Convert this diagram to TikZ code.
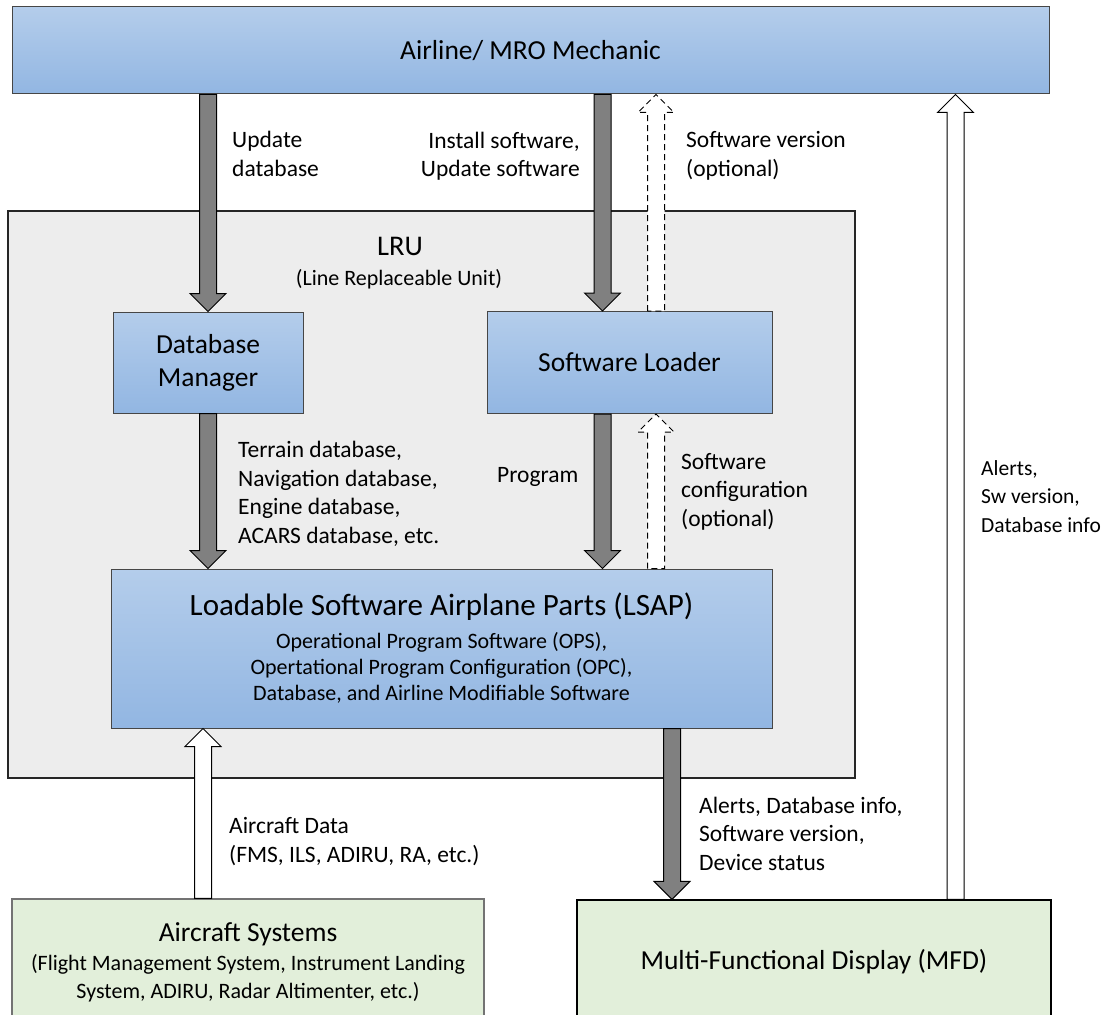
\documentclass[tikz,border=0pt]{standalone}
\usepackage{fontspec}
\setmainfont{Carlito}
\usetikzlibrary{calc}

\definecolor{boxblueTop}{RGB}{180,205,235}
\definecolor{boxblueBot}{RGB}{146,182,226}
\definecolor{lrugray}{RGB}{237,237,237}
\definecolor{sysgreen}{RGB}{226,239,218}
\definecolor{arrowgray}{RGB}{128,128,128}
\definecolor{edgegray}{RGB}{70,70,70}

\tikzset{
  bluebox/.style={draw=edgegray, line width=1pt, top color=boxblueTop, bottom color=boxblueBot,
                  inner sep=0pt, align=center, font=\fontsize{27.5}{33}\selectfont},
  lrubox/.style={draw=black!85, line width=1.3pt, fill=lrugray, inner sep=0pt},
  greenbox/.style={fill=sysgreen, line width=1.2pt, inner sep=0pt, align=center},
  lbl/.style={inner sep=0pt, font=\fontsize{23.5}{28.5}\selectfont},
  solidarrow/.style={draw=black, line width=1pt, fill=arrowgray},
  hollowarrow/.style={draw=black, line width=1pt, fill=white},
  dasharrow/.style={draw=black, line width=1pt, fill=white, dash pattern=on 6pt off 4pt},
}

% vertical block arrow from #2 to #3 (tip at #3)
\newcommand\blockarrow[3][]{%
  \path[#1] let \p1=#2, \p2=#3, \n1={sign(\y2-(\y1))} in
    (\x1-8.5pt,\y1) -- (\x1-8.5pt,\y2-\n1*18pt) -- (\x1-18pt,\y2-\n1*18pt)
    -- (\x1,\y2) -- (\x1+18pt,\y2-\n1*18pt) -- (\x1+8.5pt,\y2-\n1*18pt)
    -- (\x1+8.5pt,\y1) -- cycle;}

\begin{document}
\begin{tikzpicture}[x=1pt,y=-1pt]
\useasboundingbox (0,0) rectangle (1107,1014);

% frames
\node[lrubox, minimum width=847pt, minimum height=567pt] (lru) at (431.5,494.5) {};
\node[font=\fontsize{28.5}{32}\selectfont, inner sep=0pt] (lrutitle) at (400,246) {LRU};
\node[font=\fontsize{22}{26}\selectfont, inner sep=0pt] (lrusub) at (399,279) {(Line Replaceable Unit)};

\node[bluebox, minimum width=1037pt, minimum height=87pt] (mech) at (530.5,50.5) {Airline/ MRO Mechanic};
\node[bluebox, minimum width=190pt, minimum height=101pt] (dm) at (208,362.5) {Database\\Manager};
\node[bluebox, minimum width=285pt, minimum height=102pt] (sl) at (629.5,362.5) {Software Loader};
\node[bluebox, minimum width=661pt, minimum height=159pt, font=\fontsize{22}{26}\selectfont] (lsap) at (441.5,648.5)
  {{\fontsize{31}{34}\selectfont Loadable Software Airplane Parts (LSAP)}\\[7pt]
   Operational Program Software (OPS),\\
   Opertational Program Configuration (OPC),\\
   Database, and Airline Modifiable Software};

\node[greenbox, draw=black!55, minimum width=472pt, minimum height=126pt, font=\fontsize{22}{28}\selectfont] (acs) at (248,962)
  {{\fontsize{27.5}{30}\selectfont Aircraft Systems}\\[1pt]
   (Flight Management System, Instrument Landing\\
   System, ADIRU, Radar Altimenter, etc.)};
\node[greenbox, draw=black, minimum width=474pt, minimum height=124pt] (mfd) at (814,962)
  {\fontsize{27.5}{30}\selectfont Multi-Functional Display (MFD)};

% attachment points on the boxes
\coordinate (slInN)  at ([xshift=-27pt]sl.north);
\coordinate (slOutN) at ([xshift=26.5pt]sl.north);
\coordinate (slOutS) at ([xshift=-27pt]sl.south);
\coordinate (slInS)  at ([xshift=26.5pt]sl.south);
\coordinate (acsOut) at ([xshift=-45pt]acs.north);
\coordinate (mfdIn)  at ([xshift=-142pt]mfd.north);
\coordinate (mfdOut) at ([xshift=141.5pt]mfd.north);

% connectors
\blockarrow[solidarrow]{(mech.south -| dm.north)}{(dm.north)}
\blockarrow[solidarrow]{(mech.south -| slInN)}{(slInN)}
\blockarrow[dasharrow]{(slOutN)}{(mech.south -| slOutN)}
\blockarrow[solidarrow]{(dm.south)}{(lsap.north -| dm.south)}
\blockarrow[solidarrow]{(slOutS)}{(lsap.north -| slOutS)}
\blockarrow[dasharrow]{(lsap.north -| slInS)}{(slInS)}
\blockarrow[hollowarrow]{(acsOut)}{(lsap.south -| acsOut)}
\blockarrow[solidarrow]{(lsap.south -| mfdIn)}{(mfdIn)}
\blockarrow[hollowarrow]{(mfdOut)}{(mech.south -| mfdOut)}

% connector labels
\node[lbl, anchor=west, align=left] (l1) at (232,154) {Update\\database};
\node[lbl, anchor=east, align=right] (l2) at (580,156) {Install software,\\Update software};
\node[lbl, anchor=west, align=left] (l3) at (686,156) {Software version\\(optional)};
\node[lbl, anchor=west, align=left] (l4) at (238,494) {Terrain database,\\Navigation database,\\Engine database,\\ACARS database, etc.};
\node[lbl, anchor=west, align=left] (l5) at (497,477) {Program};
\node[lbl, anchor=west, align=left] (l6) at (681,491.5) {Software\\configuration\\(optional)};
\node[lbl, anchor=west, align=left] (l7) at (229,841.5) {Aircraft Data\\(FMS, ILS, ADIRU, RA, etc.)};
\node[lbl, anchor=west, align=left] (l8) at (699,833.5) {Alerts, Database info,\\Software version,\\Device status};
\node[lbl, anchor=west, align=left, font=\fontsize{21.5}{28.5}\selectfont] (l9) at (981,496.5) {Alerts,\\Sw version,\\Database info};
\end{tikzpicture}
\end{document}
